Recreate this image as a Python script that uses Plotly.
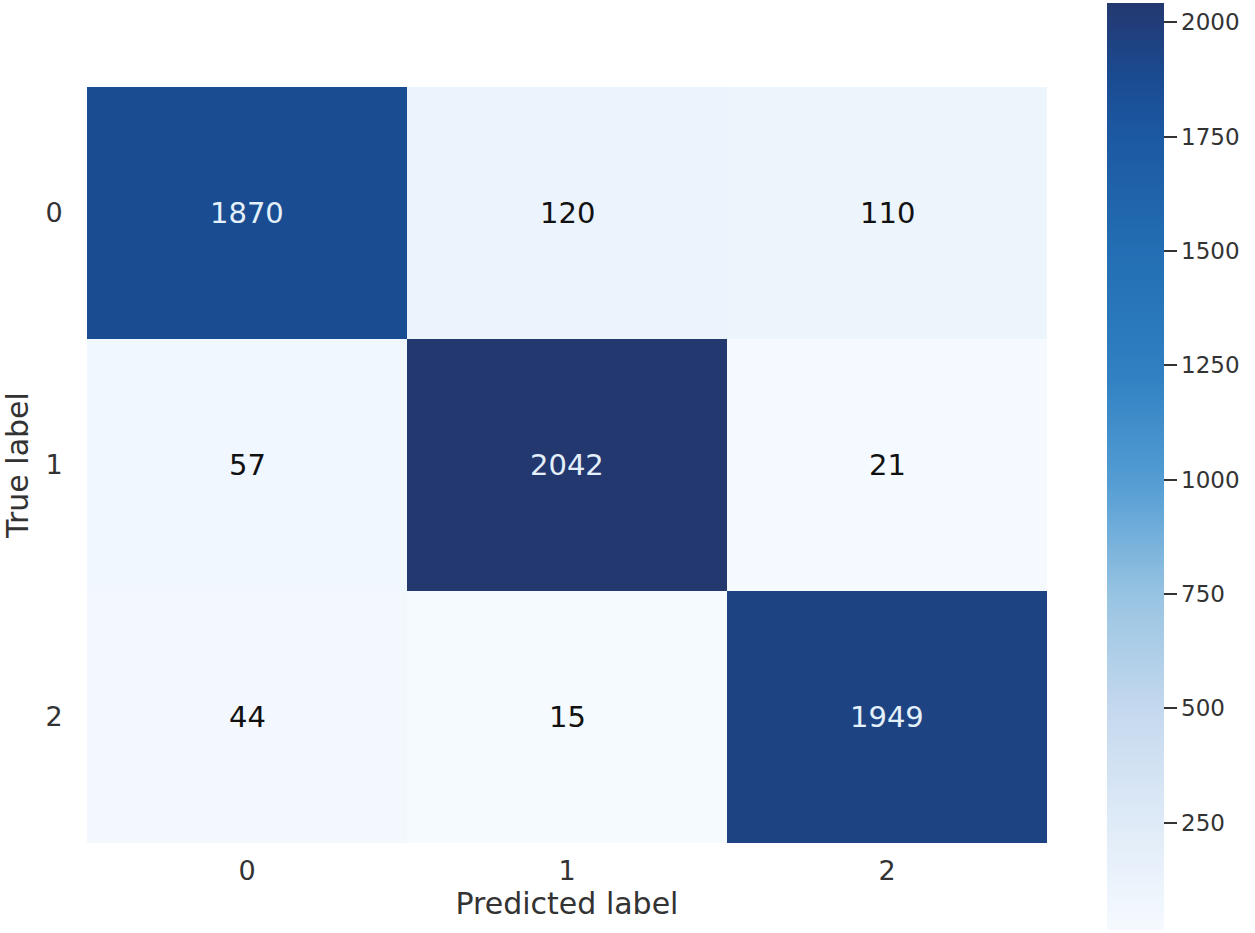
import plotly.graph_objects as go

# Confusion matrix data
labels = ['0', '1', '2']
row_0 = [1870, 120, 110]
row_1 = [57, 2042, 21]
row_2 = [44, 15, 1949]
cbar_ticks = [250, 500, 750, 1000, 1250, 1500, 1750, 2000]

z = [row_0, row_1, row_2]

# Blues, tuned to the look of the reference
blues = [[0.0, 'rgb(245,250,255)'],
         [0.12, 'rgb(222,234,247)'],
         [0.24, 'rgb(196,216,238)'],
         [0.36, 'rgb(152,196,226)'],
         [0.48, 'rgb(85,158,212)'],
         [0.6, 'rgb(48,128,194)'],
         [0.73, 'rgb(35,110,180)'],
         [0.86, 'rgb(28,88,162)'],
         [0.92, 'rgb(26,75,145)'],
         [1.0, 'rgb(36,56,112)']]

font_family = 'DejaVu Sans'
txt_col = '#333333'

zmin = min(min(r) for r in z)
zmax = max(max(r) for r in z)

fig = go.Figure()

fig.add_trace(go.Heatmap(
    z=z, x=labels, y=labels,
    colorscale=blues,
    zmin=zmin, zmax=zmax,
    showscale=True,
    colorbar=dict(
        thickness=57,
        lenmode='pixels', len=927,
        x=1.062, xanchor='left',
        y=0.498, yanchor='middle',
        xpad=0, ypad=0,
        outlinewidth=0,
        tickvals=cbar_ticks,
        ticks='outside', ticklen=13, tickwidth=2, tickcolor=txt_col,
        tickfont=dict(family=font_family, size=23, color=txt_col),
    ),
))

# Cell annotations
thresh = (zmin + zmax) / 2
for i, row in enumerate(z):
    for j, v in enumerate(row):
        fig.add_annotation(
            x=labels[j], y=labels[i], text=str(v), showarrow=False,
            font=dict(family=font_family, size=29,
                      color='rgb(228,240,250)' if v > thresh else '#111111'))

fig.update_xaxes(
    title=dict(text='Predicted label', standoff=2,
               font=dict(family=font_family, size=30, color=txt_col)),
    tickfont=dict(family=font_family, size=27, color=txt_col),
    ticks='outside', ticklen=4, tickcolor='rgba(0,0,0,0)',
    showgrid=False, zeroline=False, showline=False)

fig.update_yaxes(
    title=dict(text='True label', standoff=12,
               font=dict(family=font_family, size=30, color=txt_col)),
    tickfont=dict(family=font_family, size=27, color=txt_col),
    ticks='outside', ticklen=18, tickcolor='rgba(0,0,0,0)',
    autorange='reversed',
    showgrid=False, zeroline=False, showline=False)

fig.update_layout(
    width=1255, height=933,
    margin={'l': 83, 'r': 208, 't': 87, 'b': 90},
    plot_bgcolor='white', paper_bgcolor='white',
    font=dict(family=font_family))

fig.write_html('out.html', config={'displayModeBar': False},
               post_script="document.body.style.margin='0';")
